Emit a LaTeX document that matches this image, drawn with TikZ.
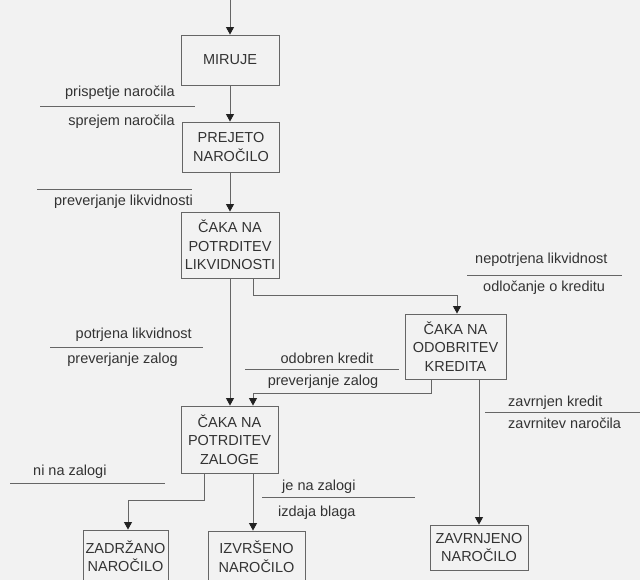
\documentclass[tikz,border=0pt]{standalone}
\usepackage{fontspec}
\setmainfont{Liberation Sans}
\usetikzlibrary{arrows.meta}
\definecolor{ink}{HTML}{333333}
\definecolor{ln}{HTML}{666666}
\definecolor{tipc}{HTML}{222222}
\definecolor{bg}{HTML}{F2F2F2}
\begin{document}
\begin{tikzpicture}[x=1pt,y=-1pt,
  font=\fontsize{14.5}{18.5}\selectfont,
  state/.style={draw=ln, line width=0.9pt, fill=bg, text=ink, align=center, inner sep=0pt},
  conn/.style={draw=ln, line width=0.9pt, -{Triangle[width=8pt,length=7.5pt,color=tipc]}},
  sepline/.style={draw=ln, line width=0.8pt},
  lbl/.style={text=ink, inner sep=0pt, text height=10.5pt, text depth=3pt}]
\fill[bg] (0,0) rectangle (640,580);
\useasboundingbox (0,0) rectangle (640,580);
\begin{scope}
\clip (0,0) rectangle (640,580);
% states
\node[state, minimum width=98pt, minimum height=50pt] (miruje) at (230,60) {MIRUJE};
\node[state, minimum width=97pt, minimum height=50pt] (prejeto) at (231,147) {PREJETO\\NAROČILO};
\node[state, minimum width=98pt, minimum height=66pt] (likv) at (230,245) {ČAKA NA\\POTRDITEV\\LIKVIDNOSTI};
\node[state, minimum width=101pt, minimum height=65pt] (kredit) at (455.5,346.5) {ČAKA NA\\ODOBRITEV\\KREDITA};
\node[state, minimum width=97pt, minimum height=67pt] (zaloge) at (229.5,439.5) {ČAKA NA\\POTRDITEV\\ZALOGE};
\node[state, minimum width=85pt, minimum height=52pt] (zadrz) at (125.5,556) {ZADRŽANO\\NAROČILO};
\node[state, minimum width=97pt, minimum height=51pt] (izvrs) at (256.5,556.5) {IZVRŠENO\\NAROČILO};
\node[state, minimum width=98pt, minimum height=45pt] (zavrn) at (479,547.5) {ZAVRNJENO\\NAROČILO};
% connectors
\coordinate (start) at (230,0);
\draw[conn] (start) -- (miruje.north);
\draw[conn] (miruje.south) -- (miruje.south |- prejeto.north);
\draw[conn] (likv.north |- prejeto.south) -- (likv.north);
\draw[conn] (likv.south) -- (likv.south |- zaloge.north);
\draw[conn] ([xshift=23pt]likv.south) -- ++(0,17) -| ([xshift=1.5pt]kredit.north);
\draw[conn] ([xshift=-24.5pt]kredit.south) -- ++(0,14) -| ([xshift=23.5pt]zaloge.north);
\draw[conn] (kredit.south -| zavrn.north) -- (zavrn.north);
\draw[conn] ([xshift=-25.5pt]zaloge.south) -- ++(0,27) -| ([xshift=2.5pt]zadrz.north);
\draw[conn] ([xshift=23.5pt]zaloge.south) -- ([xshift=23.5pt]zaloge.south |- izvrs.north);
% transition labels
\node[lbl, anchor=east] (e1) at (175,93) {prispetje naročila};
\draw[sepline] (40,106) -- (195,106);
\node[lbl, anchor=east] (a1) at (175,122) {sprejem naročila};

\draw[sepline] (37,189) -- (192,189);
\node[lbl, anchor=east] (a2) at (193,202) {preverjanje likvidnosti};

\node[lbl, anchor=east] (e3) at (192,335) {potrjena likvidnost};
\draw[sepline] (50,347) -- (203,347);
\node[lbl, anchor=east] (a3) at (178,360) {preverjanje zalog};

\node[lbl, anchor=west] (e4) at (475,260) {nepotrjena likvidnost};
\draw[sepline] (467,275) -- (622,275);
\node[lbl, anchor=west] (a4) at (483,288) {odločanje o kreditu};

\node[lbl] (e5) at (327,360) {odobren kredit};
\draw[sepline] (245,369) -- (399,369);
\node[lbl] (a5) at (323,382) {preverjanje zalog};

\node[lbl, anchor=west] (e6) at (508,403) {zavrnjen kredit};
\draw[sepline] (485,412) -- (640,412);
\node[lbl, anchor=west] (a6) at (508,425) {zavrnitev naročila};

\node[lbl, anchor=west] (e7) at (33,472) {ni na zalogi};
\draw[sepline] (10,483) -- (165,483);

\node[lbl, anchor=west] (e8) at (282,487) {je na zalogi};
\draw[sepline] (262,497) -- (415,497);
\node[lbl, anchor=west] (a8) at (278,513) {izdaja blaga};
\end{scope}
\end{tikzpicture}
\end{document}
